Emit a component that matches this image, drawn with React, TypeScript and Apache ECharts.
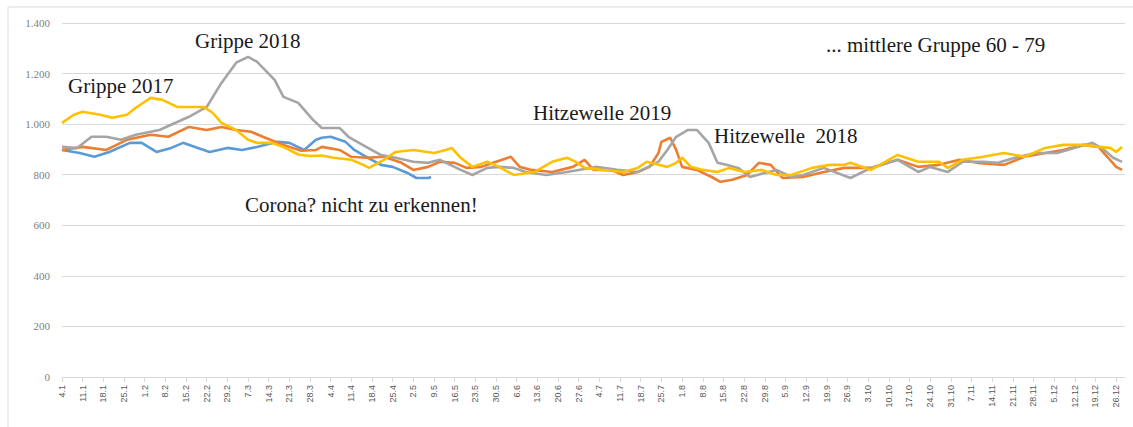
import React, { useEffect, useRef } from "react";
import * as echarts from "echarts";

// Week tick labels (2020), one every 7 days starting at 4.1
const weekLabels = [
  "4.1", "11.1", "18.1", "25.1", "1.2", "8.2", "15.2", "22.2", "29.2", "7.3",
  "14.3", "21.3", "28.3", "4.4", "11.4", "18.4", "25.4", "2.5", "9.5", "16.5",
  "23.5", "30.5", "6.6", "13.6", "20.6", "27.6", "4.7", "11.7", "18.7", "25.7",
  "1.8", "8.8", "15.8", "22.8", "29.8", "5.9", "12.9", "19.9", "26.9", "3.10",
  "10.10", "17.10", "24.10", "31.10", "7.11", "14.11", "21.11", "28.11", "5.12",
  "12.12", "19.12", "26.12",
];

const yTicks = [0, 200, 400, 600, 800, 1000, 1200, 1400];

// [day since 4.1, deaths per day]
const series2020: [number, number][] = [
  [0, 898], [6, 886], [11, 871], [16, 890], [23, 926], [27, 926], [32, 890],
  [37, 906], [41, 926], [46, 906], [50, 890], [56, 906], [61, 898], [66, 910],
  [73, 930], [77, 926], [82, 898], [86, 938], [88, 946], [91, 950], [96, 930],
  [99, 898], [103, 871], [108, 839], [112, 831], [117, 807], [120, 787],
  [124, 787], [125, 791],
];

const series2019: [number, number][] = [
  [0, 898], [7, 910], [15, 898], [22, 938], [30, 958], [36, 950], [43, 989],
  [49, 977], [54, 989], [59, 977], [64, 970], [68, 950], [75, 918], [81, 895],
  [86, 898], [88, 910], [94, 898], [98, 871], [103, 867], [109, 871], [115, 847],
  [119, 819], [124, 831], [128, 851], [133, 847], [137, 827], [142, 831],
  [146, 847], [152, 871], [155, 831], [159, 819], [166, 811], [173, 831],
  [177, 859], [180, 819], [186, 819], [190, 799], [195, 811], [199, 831],
  [202, 886], [203, 930], [206, 946], [208, 898], [210, 831], [215, 819],
  [220, 791], [223, 772], [227, 780], [232, 799], [236, 847], [240, 839],
  [244, 787], [251, 791], [258, 811], [265, 827], [274, 827], [283, 859],
  [290, 831], [297, 839], [304, 859], [310, 847], [319, 839], [326, 871],
  [333, 886], [339, 898], [346, 918], [351, 910], [354, 871], [357, 831],
  [359, 819],
];

const series2018: [number, number][] = [
  [0, 910], [5, 905], [10, 950], [15, 950], [20, 938], [25, 958], [33, 977],
  [43, 1029], [49, 1068], [54, 1163], [59, 1243], [63, 1266], [66, 1247],
  [72, 1175], [75, 1108], [80, 1084], [85, 1017], [88, 985], [94, 985],
  [97, 950], [103, 910], [108, 878], [113, 867], [119, 851], [124, 847],
  [128, 859], [135, 819], [139, 799], [144, 827], [148, 831], [153, 827],
  [157, 811], [164, 799], [171, 811], [175, 819], [181, 831], [188, 819],
  [195, 811], [202, 851], [205, 898], [208, 950], [212, 977], [215, 977],
  [219, 926], [222, 847], [225, 839], [229, 827], [233, 791], [238, 807],
  [242, 819], [247, 791], [251, 799], [258, 827], [267, 787], [274, 827],
  [283, 859], [290, 811], [294, 831], [300, 811], [305, 851], [312, 851],
  [317, 847], [324, 871], [330, 886], [337, 886], [344, 910], [349, 926],
  [353, 898], [356, 867], [359, 851],
];

const series2017: [number, number][] = [
  [0, 1005], [4, 1037], [7, 1049], [13, 1037], [17, 1025], [22, 1037],
  [25, 1065], [30, 1104], [34, 1096], [39, 1068], [43, 1068], [48, 1068],
  [51, 1045], [54, 1005], [59, 977], [63, 938], [66, 926], [71, 926],
  [75, 910], [80, 880], [84, 874], [88, 876], [92, 867], [98, 859],
  [102, 839], [104, 827], [109, 859], [113, 890], [119, 898], [126, 886],
  [130, 898], [132, 906], [135, 867], [139, 831], [144, 851], [148, 831],
  [153, 799], [160, 811], [166, 851], [171, 867], [174, 851], [177, 827],
  [183, 819], [190, 811], [195, 827], [198, 851], [202, 839], [205, 831],
  [208, 847], [210, 867], [213, 831], [217, 819], [222, 811], [226, 827],
  [231, 811], [237, 819], [242, 799], [247, 799], [254, 827], [260, 839],
  [265, 839], [267, 847], [274, 819], [283, 878], [290, 851], [297, 851],
  [300, 827], [305, 859], [312, 871], [319, 886], [326, 871], [333, 906],
  [339, 918], [346, 918], [351, 910], [355, 906], [357, 890], [359, 910],
];

const annotations = [
  { text: "Grippe 2018", x: 195, y: 41 },
  { text: "Grippe 2017", x: 68, y: 86 },
  { text: "Hitzewelle 2019", x: 533, y: 113 },
  { text: "Hitzewelle  2018", x: 714, y: 136 },
  { text: "Corona? nicht zu erkennen!", x: 245, y: 205 },
  { text: "... mittlere Gruppe 60 - 79", x: 826, y: 45 },
];

const fmtThousands = (v: number) =>
  v >= 1000 ? `${Math.floor(v / 1000)}.${String(v % 1000).padStart(3, "0")}` : String(v);

export default function App() {
  const ref = useRef<HTMLDivElement>(null);
  useEffect(() => {
    document.body.style.margin = "0";
    if (!ref.current) return;
    const chart = echarts.init(ref.current, null, { renderer: "svg" });
    const lineSeries = (name: string, data: [number, number][], color: string) => ({
      name,
      type: "line",
      data,
      showSymbol: false,
      symbol: "none",
      lineStyle: { color, width: 2.6 },
      itemStyle: { color },
    });
    chart.setOption({
      animation: false,
      backgroundColor: "#ffffff",
      grid: { left: 62, right: 8, top: 23, bottom: 50, containLabel: false },
      xAxis: {
        type: "value",
        min: 0,
        max: 360,
        interval: 7,
        axisLine: { show: true, lineStyle: { color: "#d9d9d9", width: 1 } },
        axisTick: { show: true, length: 5, lineStyle: { color: "#d9d9d9" } },
        splitLine: { show: false },
        axisLabel: {
          rotate: 90,
          margin: 8,
          fontSize: 9,
          fontFamily: "Liberation Sans, Arial, sans-serif",
          color: "#595959",
          showMaxLabel: false,
          formatter: (v: number) => (v % 7 === 0 ? weekLabels[v / 7] ?? "" : ""),
        },
      },
      yAxis: {
        type: "value",
        min: yTicks[0],
        max: yTicks[yTicks.length - 1],
        interval: 200,
        axisLine: { show: false },
        axisTick: { show: false },
        splitLine: { lineStyle: { color: "#d9d9d9", width: 1 } },
        axisLabel: {
          margin: 12,
          fontSize: 11,
          fontFamily: "Liberation Serif, Times New Roman, serif",
          color: "#808080",
          formatter: (v: number) => fmtThousands(v),
        },
      },
      series: [
        lineSeries("2020", series2020, "#5B9BD5"),
        lineSeries("2019", series2019, "#ED7D31"),
        lineSeries("2018", series2018, "#A5A5A5"),
        lineSeries("2017", series2017, "#FFC000"),
      ],
      graphic: [
        {
          type: "rect",
          shape: { x: 8, y: 7, width: 1140, height: 440 },
          style: { fill: "none", stroke: "#d9d9d9", lineWidth: 1 },
          silent: true,
        },
        ...annotations.map((a) => ({
          type: "text",
          x: a.x,
          y: a.y,
          style: {
            text: a.text,
            fill: "#1a1a1a",
            fontSize: 21,
            fontFamily: "Liberation Serif, Times New Roman, serif",
            verticalAlign: "middle",
            align: "left",
          },
          z: 10,
        })),
      ],
    });
    return () => chart.dispose();
  }, []);
  return <div ref={ref} style={{ width: 1133, height: 427 }} />;
}
